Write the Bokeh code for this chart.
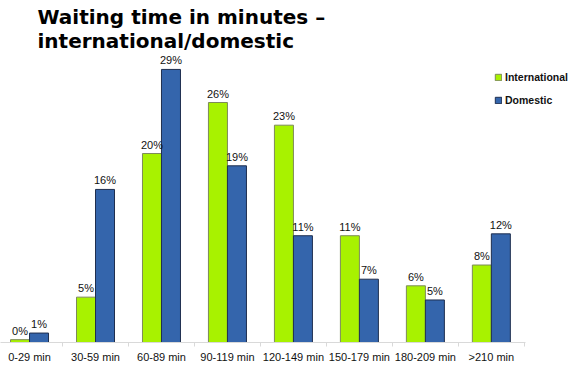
from bokeh.plotting import figure
from bokeh.models import Range1d, FixedTicker, Legend, LegendItem, Title, LinearAxis
from bokeh.core.properties import value
from bokeh.embed import file_html
from bokeh.resources import INLINE

categories = ["0-29 min", "30-59 min", "60-89 min", "90-119 min",
              "120-149 min", "150-179 min", "180-209 min", ">210 min"]
international = [0.3, 4.8, 20.0, 25.4, 23.0, 11.3, 6.0, 8.2]
domestic = [1.0, 16.2, 28.9, 18.7, 11.3, 6.7, 4.5, 11.5]
international_labels = ["0%", "5%", "20%", "26%", "23%", "11%", "6%", "8%"]
domestic_labels = ["1%", "16%", "29%", "19%", "11%", "7%", "5%", "12%"]

GREEN = "#a8f200"
BLUE = "#3465ac"

n = len(categories)
idx = list(range(n))
bar_w = 0.288
x_int = [i - bar_w / 2 for i in idx]
x_dom = [i + bar_w / 2 for i in idx]

X0 = -0.44
X1 = 8.23
p = figure(width=572, height=369,
           x_range=Range1d(X0, X1), y_range=Range1d(0, 30.48),
           x_axis_type=None, y_axis_type=None,
           output_backend="svg", toolbar_location=None, title=None,
           min_border_left=0, min_border_right=0, min_border_top=0,
           min_border_bottom=27)
p.outline_line_color = None
p.background_fill_color = "white"

p.add_layout(Title(text="Waiting time in minutes \u2013\ninternational/domestic",
                   align="left", offset=37,
                   text_font="DejaVu Sans", text_font_style="bold",
                   text_font_size="20px", text_color="black",
                   text_line_height=1.0, standoff=4), "above")

xaxis = LinearAxis(
    ticker=FixedTicker(ticks=idx, minor_ticks=[i - 0.5 for i in range(n + 1)]),
    major_label_overrides={i: c for i, c in enumerate(categories)},
    bounds=(X0, 7.515))
xaxis.major_tick_out = 0
xaxis.major_tick_in = 0
xaxis.minor_tick_out = 4
xaxis.minor_tick_in = 0
xaxis.minor_tick_line_color = "#d9d9d9"
xaxis.axis_line_color = "#d9d9d9"
xaxis.major_label_standoff = 4
xaxis.major_label_text_font = "Liberation Sans"
xaxis.major_label_text_font_size = "11px"
xaxis.major_label_text_color = "#111111"
p.add_layout(xaxis, "below")

r_int = p.vbar(x=x_int, top=international, width=bar_w, bottom=0,
               fill_color=GREEN, line_color="#7d8a5a", line_width=1)
r_dom = p.vbar(x=x_dom, top=domestic, width=bar_w, bottom=0,
               fill_color=BLUE, line_color="#1f2f4f", line_width=1)

p.text(x=x_int, y=international, text=international_labels,
       text_align="center", text_baseline="bottom", y_offset=-3,
       text_font=value("Liberation Sans"), text_font_size="11px", text_color="#111111")
p.text(x=x_dom, y=domestic, text=domestic_labels,
       text_align="center", text_baseline="bottom", y_offset=-3,
       text_font=value("Liberation Sans"), text_font_size="11px", text_color="#111111")

legend = Legend(items=[LegendItem(label="International", renderers=[r_int]),
                       LegendItem(label="Domestic", renderers=[r_dom])],
                location=(494, 236), padding=0, margin=0, spacing=11,
                glyph_width=8, glyph_height=8, label_standoff=3,
                label_text_font="Liberation Sans", label_text_font_style="bold",
                label_text_font_size="10.5px", label_text_color="#111111",
                border_line_color=None, background_fill_alpha=0)
p.add_layout(legend, "center")

open("out.html", "w").write(file_html(p, INLINE))
